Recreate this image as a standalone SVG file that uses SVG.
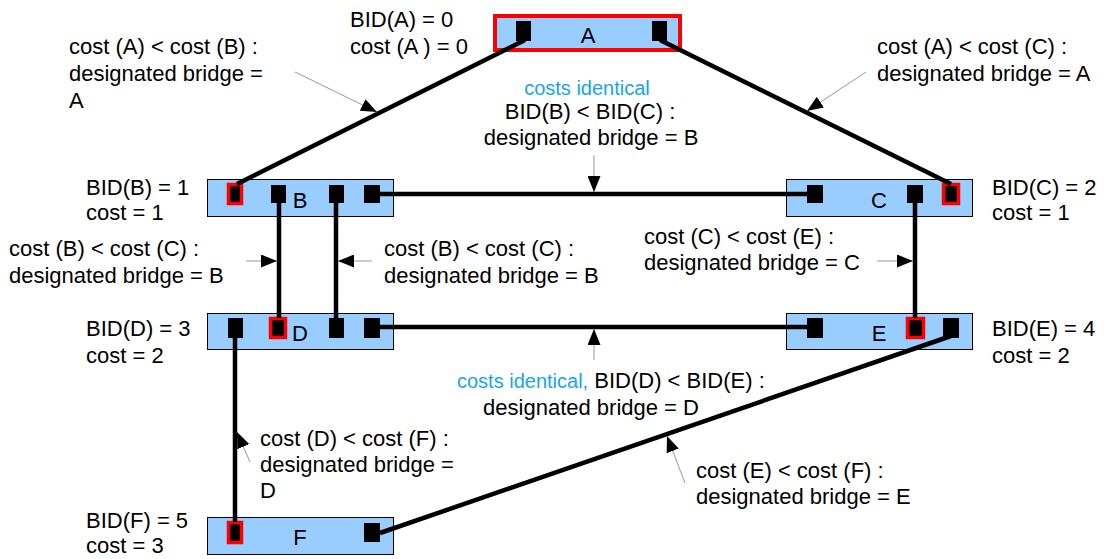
<svg xmlns="http://www.w3.org/2000/svg" width="1109" height="559" viewBox="0 0 1109 559">
<style>
text{font-family:"Liberation Sans",Arial,sans-serif;font-size:22px;fill:#000}
.blue{fill:#18a4ec;font-size:20px}
.box{fill:#99ccff;stroke:#000;stroke-width:1}
.port{fill:#000}
.rport{fill:#000;stroke:#ff0000;stroke-width:3.5}
.link{stroke:#000;stroke-width:4.5;fill:none;stroke-linecap:butt}
.ann{stroke:#999;stroke-width:1;fill:none;marker-end:url(#ah)}
.mid{text-anchor:middle}
</style>
<defs>
<marker id="ah" markerUnits="userSpaceOnUse" markerWidth="16" markerHeight="13" refX="16" refY="6.5" orient="auto">
<path d="M0,0 L16,6.5 L0,13 z" fill="#000"/>
</marker>
</defs>
<g id="node-A">
<rect x="495" y="16" width="185" height="34" fill="#99ccff" stroke="#ff0000" stroke-width="4"/>
<rect class="port" x="516" y="21" width="15" height="20"/>
<rect class="port" x="652" y="21" width="15" height="20"/>
<text class="mid" x="588" y="43">A</text>
</g>
<g id="node-B">
<rect class="box" x="207.5" y="179.5" width="186" height="37"/>
<rect class="rport" x="228.5" y="184.5" width="13" height="19"/>
<rect class="port" x="271" y="185" width="15" height="18"/>
<rect class="port" x="329" y="185" width="15" height="18"/>
<rect class="port" x="364" y="185" width="16" height="18"/>
<text class="mid" x="300" y="208">B</text>
</g>
<g id="node-C">
<rect class="box" x="786.5" y="179.5" width="186" height="37"/>
<rect class="port" x="807" y="185" width="16" height="18"/>
<rect class="port" x="907" y="185" width="16" height="18"/>
<rect class="rport" x="943.5" y="184.5" width="15" height="19"/>
<text class="mid" x="879" y="208">C</text>
</g>
<g id="node-D">
<rect class="box" x="207.5" y="313.5" width="186" height="36"/>
<rect class="port" x="228" y="318" width="15" height="20"/>
<rect class="rport" x="270.5" y="318.5" width="15" height="19"/>
<rect class="port" x="329" y="318" width="15" height="20"/>
<rect class="port" x="364" y="318" width="16" height="20"/>
<text class="mid" x="300" y="341">D</text>
</g>
<g id="node-E">
<rect class="box" x="786.5" y="313.5" width="186" height="36"/>
<rect class="port" x="807" y="318" width="16" height="20"/>
<rect class="rport" x="907.5" y="318.5" width="16" height="19"/>
<rect class="port" x="943" y="318" width="16" height="20"/>
<text class="mid" x="879" y="341">E</text>
</g>
<g id="node-F">
<rect class="box" x="207.5" y="517.5" width="186" height="37"/>
<rect class="rport" x="228.5" y="522.5" width="13" height="20"/>
<rect class="port" x="364" y="523" width="16" height="19"/>
<text class="mid" x="300" y="545">F</text>
</g>
<g id="connectors">
<line class="link" x1="525" y1="40" x2="237" y2="184"/>
<line class="link" x1="660" y1="40" x2="951" y2="184"/>
<line class="link" x1="380" y1="194" x2="807" y2="194"/>
<line class="link" x1="279" y1="203" x2="279" y2="318"/>
<line class="link" x1="336" y1="203" x2="336" y2="318"/>
<line class="link" x1="380" y1="327" x2="807" y2="327"/>
<line class="link" x1="915" y1="203" x2="915" y2="318"/>
<line class="link" x1="235" y1="338" x2="235" y2="522"/>
<line class="link" x1="951" y1="336" x2="380" y2="533"/>
<line class="ann" x1="295" y1="72" x2="377" y2="112"/>
<line class="ann" x1="866" y1="72" x2="807" y2="111"/>
<line class="ann" x1="594" y1="155" x2="594" y2="192"/>
<line class="ann" x1="246" y1="261" x2="277" y2="261"/>
<line class="ann" x1="372" y1="261" x2="338" y2="261"/>
<line class="ann" x1="877" y1="261" x2="913" y2="261"/>
<line class="ann" x1="594" y1="360" x2="594" y2="329"/>
<line class="ann" x1="250" y1="462" x2="237" y2="432"/>
<line class="ann" x1="685" y1="483" x2="667" y2="436"/>
</g>
<g id="labels">
<text x="69" y="54">cost (A) &lt; cost (B) :</text>
<text x="69" y="81">designated bridge =</text>
<text x="69" y="108">A</text>
<text x="350" y="27">BID(A) = 0</text>
<text x="350" y="54">cost (A ) = 0</text>
<text x="877" y="54">cost (A) &lt; cost (C) :</text>
<text x="877" y="81">designated bridge = A</text>
<text class="mid blue" x="587" y="95">costs identical</text>
<text class="mid" x="590" y="119">BID(B) &lt; BID(C) :</text>
<text class="mid" x="591" y="145">designated bridge = B</text>
<text x="86" y="195">BID(B) = 1</text>
<text x="86" y="220">cost = 1</text>
<text x="992" y="195">BID(C) = 2</text>
<text x="992" y="220">cost = 1</text>
<text x="9" y="256">cost (B) &lt; cost (C) :</text>
<text x="9" y="283">designated bridge = B</text>
<text x="384" y="256">cost (B) &lt; cost (C) :</text>
<text x="384" y="283">designated bridge = B</text>
<text x="644" y="244">cost (C) &lt; cost (E) :</text>
<text x="644" y="270">designated bridge = C</text>
<text x="86" y="336">BID(D) = 3</text>
<text x="86" y="363">cost = 2</text>
<text x="992" y="336">BID(E) = 4</text>
<text x="992" y="363">cost = 2</text>
<text x="457" y="388"><tspan class="blue">costs identical,</tspan> BID(D) &lt; BID(E) :</text>
<text class="mid" x="591" y="415">designated bridge = D</text>
<text x="260" y="446">cost (D) &lt; cost (F) :</text>
<text x="260" y="472">designated bridge =</text>
<text x="260" y="498">D</text>
<text x="696" y="478">cost (E) &lt; cost (F) :</text>
<text x="696" y="504">designated bridge = E</text>
<text x="86" y="528">BID(F) = 5</text>
<text x="86" y="553">cost = 3</text>
</g>
</svg>
